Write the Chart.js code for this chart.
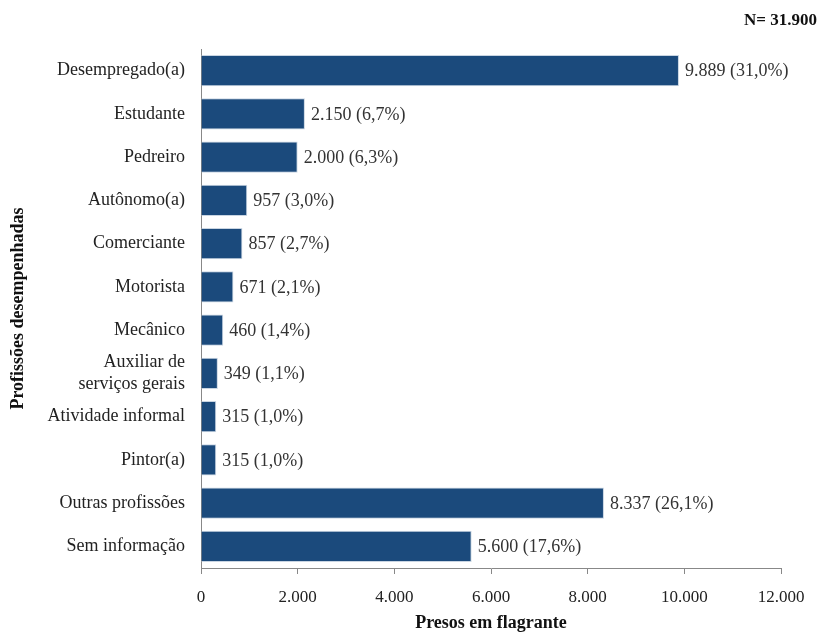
<!DOCTYPE html>
<html><head><meta charset="utf-8">
<script src="https://cdn.jsdelivr.net/npm/chart.js@4"></script>
<style>html,body{margin:0;padding:0;background:#fff}#wrap{width:819px;height:632px}</style>
</head><body><div id="wrap"><canvas id="c" width="819" height="632"></canvas></div>
<script>
const categories = ["Desempregado(a)","Estudante","Pedreiro","Autônomo(a)","Comerciante","Motorista","Mecânico",["Auxiliar de","serviços gerais"],"Atividade informal","Pintor(a)","Outras profissões","Sem informação"];
const values = [9889,2150,2000,957,857,671,460,349,315,315,8337,5600];
const percents = ["31,0%","6,7%","6,3%","3,0%","2,7%","2,1%","1,4%","1,1%","1,0%","1,0%","26,1%","17,6%"];
const xTicks = [0,2000,4000,6000,8000,10000,12000];
const totalLabel = "N= 31.900";

const FONT = "'Liberation Serif', serif";
const fmt = v => v.toLocaleString('de-DE');

const labelPlugin = {
  id:'labels',
  afterDatasetsDraw(chart){
    const ctx = chart.ctx;
    const meta = chart.getDatasetMeta(0);
    ctx.save();
    ctx.font = "18px " + FONT;
    ctx.fillStyle = "#333";
    ctx.textBaseline = "middle";
    meta.data.forEach((bar,i)=>{
      ctx.fillText(fmt(values[i]) + " (" + percents[i] + ")", bar.x + 6, bar.y + 1);
    });
    ctx.font = "bold 17px " + FONT;
    ctx.fillStyle = "#111";
    ctx.textAlign = "right";
    ctx.fillText(totalLabel, chart.width - 2, 21);
    ctx.restore();
  }
};

new Chart(document.getElementById('c'), {
  type:'bar',
  data:{labels:categories, datasets:[{data:values, backgroundColor:"#1B4A7C", borderColor:"#C9D5E2", borderWidth:1, barPercentage:0.72, categoryPercentage:1}]},
  options:{
    indexAxis:'y', responsive:false, animation:false,
    layout:{padding:{top:49,right:38,bottom:0,left:0}},
    plugins:{legend:{display:false}, tooltip:{enabled:false}},
    scales:{
      x:{min:0,max:12000,
        afterBuildTicks(s){ s.ticks = xTicks.map(v=>({value:v})); },
        afterFit(s){ s.height = 64; },
        grid:{drawOnChartArea:false, drawTicks:true, tickLength:6, color:"#888"},
        border:{color:"#888"},
        ticks:{font:{family:FONT,size:17}, color:"#222", padding:13, maxRotation:0, callback:v=>fmt(v)},
        title:{display:true,text:"Presos em flagrante",font:{family:FONT,size:18,weight:'bold'},color:"#111",padding:{top:0,bottom:-2}}
      },
      y:{
        afterFit(s){ s.width = 201; },
        grid:{display:false},
        border:{color:"#888"},
        ticks:{font:{family:FONT,size:18}, color:"#222", padding:8, autoSkip:false},
        title:{display:true,text:"Profissões desempenhadas",font:{family:FONT,size:18,weight:'bold'},color:"#111",padding:{top:8,bottom:0}}
      }
    }
  },
  plugins:[labelPlugin]
});
</script></body></html>
